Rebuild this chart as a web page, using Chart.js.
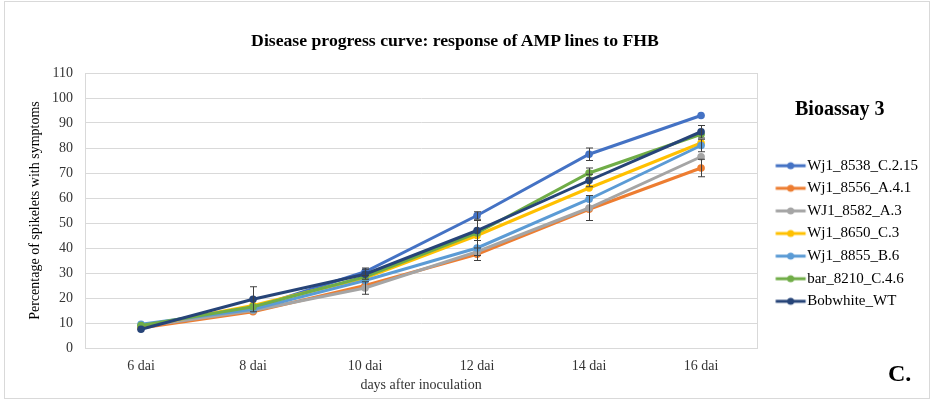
<!DOCTYPE html>
<html>
<head>
<meta charset="utf-8">
<script src="https://cdn.jsdelivr.net/npm/chart.js@4.4.1/dist/chart.umd.min.js"></script>
<style>
  html, body { margin: 0; padding: 0; background: #fff; }
  #wrap { position: relative; width: 932px; height: 402px; font-family: "Liberation Serif", "Times New Roman", serif; color: #000; }
  #frame { position: absolute; left: 4px; top: 1px; width: 924px; height: 396px; border: 1px solid #d9d9d9; }
  #title { position: absolute; left: 0; top: 29px; width: 910px; text-align: center; font-size: 17.7px; font-weight: bold; line-height: 22px; }
  #assay { position: absolute; left: 795px; top: 95px; font-size: 20px; font-weight: bold; line-height: 26px; }
  #panel { position: absolute; left: 888px; top: 359px; font-size: 24px; font-weight: bold; line-height: 28px; }
  canvas { position: absolute; left: 0; top: 0; }
</style>
</head>
<body>
<div id="wrap">
  <div id="frame"></div>
  <canvas id="dpc" width="932" height="402"></canvas>
  <div id="title">Disease progress curve: response of AMP lines to FHB</div>
  <div id="assay">Bioassay 3</div>
  <div id="panel">C.</div>
</div>
<script>
const days = ['6 dai', '8 dai', '10 dai', '12 dai', '14 dai', '16 dai'];
const lineNames = ['Wj1_8538_C.2.15', 'Wj1_8556_A.4.1', 'WJ1_8582_A.3', 'Wj1_8650_C.3', 'Wj1_8855_B.6', 'bar_8210_C.4.6', 'Bobwhite_WT'];
const lineColors = ['#4472C4', '#ED7D31', '#A5A5A5', '#FFC000', '#5B9BD5', '#70AD47', '#264478'];

const wj8538 = [8.5, 16, 30.5, 53, 77.5, 93];
const wj8556 = [8, 14.5, 25, 37.5, 55.5, 72];
const wj8582 = [8.5, 15, 24, 38.5, 56, 76.5];
const wj8650 = [8.5, 17, 28, 45, 64, 82];
const wj8855 = [9.5, 15.5, 27, 40, 59.5, 81];
const bar8210 = [9, 16.5, 28.5, 46, 70, 85.5];
const bobwhite = [7.5, 19.5, 29.5, 47, 67, 86.5];

// standard error per point, null where no bar is shown
const err8538 = [null, null, 1.5, 1.5, 2.5, null];
const err8556 = [null, null, null, 2.5, null, 3.5];
const err8582 = [null, null, 2.5, null, 5, null];
const err8650 = [null, null, null, null, null, null];
const err8855 = [null, null, null, 3, null, 2.5];
const err8210 = [null, null, null, null, 2, null];
const errBobwhite = [null, 5, 2, 4, 2.5, 2.5];

const yTicks = { min: 0, max: 110, step: 10 };

const series = [wj8538, wj8556, wj8582, wj8650, wj8855, bar8210, bobwhite];
const errors = [err8538, err8556, err8582, err8650, err8855, err8210, errBobwhite];

const serif = '"Liberation Serif", "Times New Roman", serif';

// line-with-dot swatch for the legend (box is 35 wide, line sits in its right part)
function swatch(color) {
  const c = document.createElement('canvas');
  c.width = 50; c.height = 12;
  const g = c.getContext('2d');
  g.strokeStyle = color; g.lineWidth = 3;
  g.beginPath(); g.moveTo(18.5, 6); g.lineTo(48.5, 6); g.stroke();
  g.fillStyle = color;
  g.beginPath(); g.arc(33.5, 6, 3.5, 0, Math.PI * 2); g.fill();
  return c;
}

const datasets = series.map((vals, i) => ({
  label: lineNames[i],
  data: vals,
  errors: errors[i],
  borderColor: lineColors[i],
  backgroundColor: lineColors[i],
  borderWidth: 3,
  pointRadius: 3.8,
  pointBorderWidth: 0,
  pointHoverRadius: 4,
  tension: 0,
  order: series.length - i
}));

// draws the plot-area outline
const areaBorder = {
  id: 'areaBorder',
  beforeDatasetsDraw(chart) {
    const { ctx, chartArea: a } = chart;
    ctx.save();
    ctx.strokeStyle = '#d9d9d9';
    ctx.lineWidth = 1;
    ctx.strokeRect(Math.round(a.left) + 0.5, Math.round(a.top) + 0.5, Math.round(a.width), Math.round(a.height));
    ctx.restore();
  }
};

// vertical error bars with caps
const errorBars = {
  id: 'errorBars',
  afterDatasetsDraw(chart) {
    const { ctx } = chart;
    const y = chart.scales.y;
    ctx.save();
    ctx.strokeStyle = '#404040';
    ctx.lineWidth = 1;
    chart.data.datasets.forEach((ds, di) => {
      const meta = chart.getDatasetMeta(di);
      ds.errors.forEach((e, i) => {
        if (e == null) return;
        const x = Math.round(meta.data[i].x) + 0.5;
        const top = y.getPixelForValue(ds.data[i] + e);
        const bot = y.getPixelForValue(ds.data[i] - e);
        ctx.beginPath();
        ctx.moveTo(x, top); ctx.lineTo(x, bot);
        ctx.moveTo(x - 3.5, top); ctx.lineTo(x + 3.5, top);
        ctx.moveTo(x - 3.5, bot); ctx.lineTo(x + 3.5, bot);
        ctx.stroke();
      });
    });
    ctx.restore();
  }
};

new Chart(document.getElementById('dpc').getContext('2d'), {
  type: 'line',
  data: { labels: days, datasets: datasets },
  options: {
    responsive: false,
    animation: false,
    layout: { padding: { top: 73, right: 4, bottom: 8, left: 18 } },
    plugins: {
      title: { display: false },
      legend: {
        position: 'right',
        labels: {
          color: '#000',
          font: { family: serif, size: 15 },
          usePointStyle: true,
          pointStyleWidth: 35,
          boxHeight: 15,
          padding: 7.6,
          sort: (a, b) => a.datasetIndex - b.datasetIndex,
          generateLabels(chart) {
            const items = Chart.defaults.plugins.legend.labels.generateLabels(chart);
            items.forEach(it => { it.pointStyle = swatch(lineColors[it.datasetIndex]); });
            return items;
          }
        }
      },
      tooltip: { enabled: false }
    },
    scales: {
      x: {
        offset: true,
        afterFit(scale) { scale.height = 46; },
        grid: { display: false, drawTicks: false },
        border: { color: '#bfbfbf' },
        ticks: { color: '#333', font: { family: serif, size: 14 }, padding: 10 },
        title: {
          display: true,
          text: 'days after inoculation',
          color: '#333',
          font: { family: serif, size: 14 },
          padding: { top: 0, bottom: 0 }
        }
      },
      y: {
        min: yTicks.min,
        max: yTicks.max,
        afterFit(scale) { scale.width = 67; },
        grid: { color: '#d9d9d9', drawTicks: false },
        border: { color: '#bfbfbf' },
        ticks: { stepSize: yTicks.step, color: '#333', font: { family: serif, size: 14 }, padding: 12 },
        title: {
          display: true,
          text: 'Percentage of spikelets with symptoms',
          color: '#000',
          font: { family: serif, size: 14 },
          padding: { top: 8.6, bottom: 0 }
        }
      }
    }
  },
  plugins: [areaBorder, errorBars]
});
</script>
</body>
</html>
